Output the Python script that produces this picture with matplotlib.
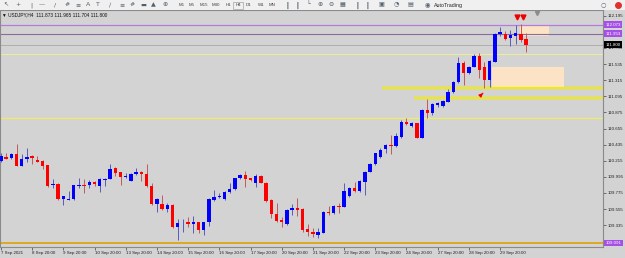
import matplotlib
matplotlib.use('Agg')
import matplotlib.pyplot as plt
from matplotlib.patches import Rectangle

plt.rcParams['font.family'] = ['Liberation Sans', 'DejaVu Sans']

# USDJPY H4 candles, 7 Sep 20:00 .. 30 Sep 16:00
opens = [110.212, 110.262, 110.248, 110.303, 110.148, 110.234, 110.280, 110.225, 110.212, 110.157,
         109.879, 109.893, 109.692, 109.683, 109.692, 109.870, 109.884, 109.879, 109.925, 109.875,
         109.957, 109.966, 110.116, 110.057, 109.988, 109.943, 110.029, 110.057, 110.034, 109.870,
         109.624, 109.624, 109.556, 109.610, 109.314, 109.374, 109.383, 109.346, 109.374, 109.269,
         109.374, 109.679, 109.724, 109.688, 109.793, 109.824, 109.975, 110.020, 109.975, 109.916,
         110.011, 109.916, 109.679, 109.487, 109.405, 109.346, 109.538, 109.565, 109.551, 109.278,
         109.246, 109.196, 109.232, 109.515, 109.497, 109.597, 109.588, 109.738, 109.838, 109.802,
         109.929, 110.066, 110.171, 110.271, 110.375, 110.430, 110.416, 110.544, 110.748, 110.689,
         110.726, 110.530, 110.908, 110.862, 110.976, 110.967, 111.022, 111.154, 111.290, 111.555,
         111.409, 111.500, 111.650, 111.500, 111.318, 111.568, 111.946, 111.946, 111.887, 111.923,
         111.946, 111.873]
highs = [110.316, 110.325, 110.316, 110.444, 110.307, 110.385, 110.293, 110.280, 110.225, 110.161,
         109.961, 109.906, 109.738, 109.802, 109.884, 109.984, 109.970, 109.952, 109.943, 109.975,
         109.975, 110.166, 110.125, 110.066, 110.043, 110.043, 110.111, 110.079, 110.166, 109.906,
         109.701, 109.742, 109.633, 109.624, 109.415, 109.415, 109.451, 109.460, 109.383, 109.383,
         109.701, 109.815, 109.770, 109.802, 109.916, 109.984, 110.029, 110.079, 109.984, 110.029,
         110.020, 109.920, 109.688, 109.633, 109.451, 109.551, 109.624, 109.701, 109.565, 109.351,
         109.292, 109.292, 109.524, 109.597, 109.610, 109.633, 109.906, 109.861, 109.920, 109.952,
         110.075, 110.180, 110.325, 110.385, 110.444, 110.567, 110.589, 110.771, 110.794, 110.748,
         110.735, 110.922, 111.054, 110.999, 111.022, 111.044, 111.190, 111.304, 111.627, 111.577,
         111.514, 111.673, 111.691, 111.568, 111.591, 111.955, 112.037, 111.992, 112.001, 112.069,
         112.078, 111.965]
lows = [110.202, 110.234, 110.239, 110.143, 110.143, 110.202, 110.166, 110.193, 110.098, 109.861,
        109.838, 109.683, 109.610, 109.679, 109.683, 109.838, 109.770, 109.838, 109.875, 109.793,
        109.875, 109.961, 110.011, 109.884, 109.975, 109.938, 110.020, 109.943, 109.861, 109.610,
        109.519, 109.542, 109.519, 109.292, 109.132, 109.246, 109.314, 109.223, 109.223, 109.200,
        109.323, 109.670, 109.710, 109.679, 109.779, 109.815, 109.961, 109.861, 109.938, 109.861,
        109.906, 109.656, 109.428, 109.383, 109.314, 109.337, 109.474, 109.460, 109.246, 109.187,
        109.169, 109.155, 109.223, 109.474, 109.487, 109.497, 109.579, 109.724, 109.793, 109.793,
        109.747, 110.057, 110.157, 110.248, 110.316, 110.307, 110.407, 110.530, 110.703, 110.680,
        110.521, 110.521, 110.794, 110.840, 110.953, 110.953, 111.013, 111.136, 111.281, 111.249,
        111.395, 111.491, 111.340, 111.204, 111.227, 111.559, 111.919, 111.864, 111.787, 111.805,
        111.841, 111.704]
closes = [110.280, 110.239, 110.303, 110.148, 110.239, 110.271, 110.257, 110.202, 110.148, 109.870,
          109.902, 109.692, 109.729, 109.692, 109.879, 109.884, 109.875, 109.925, 109.897, 109.966,
          109.966, 110.107, 110.052, 109.988, 110.007, 110.034, 110.057, 110.034, 109.870, 109.624,
          109.688, 109.556, 109.610, 109.314, 109.360, 109.383, 109.351, 109.374, 109.269, 109.374,
          109.688, 109.724, 109.738, 109.793, 109.824, 109.975, 110.020, 109.966, 109.952, 110.011,
          109.916, 109.670, 109.487, 109.396, 109.383, 109.542, 109.565, 109.542, 109.269, 109.246,
          109.210, 109.237, 109.515, 109.497, 109.597, 109.588, 109.802, 109.838, 109.802, 109.938,
          110.066, 110.171, 110.316, 110.362, 110.430, 110.412, 110.553, 110.748, 110.721, 110.726,
          110.530, 110.908, 110.862, 110.985, 110.999, 111.035, 111.158, 111.290, 111.555, 111.409,
          111.500, 111.650, 111.454, 111.318, 111.577, 111.946, 111.973, 111.878, 111.932, 111.955,
          111.864, 111.800]

date_ticks = list(range(0, 97, 6))
date_labels = ['7 Sep 2021', '8 Sep 20:00', '9 Sep 20:00', '10 Sep 20:00', '13 Sep 20:00',
               '14 Sep 20:00', '15 Sep 20:00', '16 Sep 20:00', '17 Sep 20:00', '20 Sep 20:00',
               '21 Sep 20:00', '22 Sep 20:00', '23 Sep 20:00', '24 Sep 20:00', '27 Sep 20:00',
               '28 Sep 20:00', '29 Sep 20:00']
price_ticks = [112.195, 111.975, 111.755, 111.535, 111.315, 111.095, 110.875, 110.655,
               110.435, 110.215, 109.995, 109.775, 109.555, 109.335, 109.115]

# drawn objects
purple_levels = [112.073, 111.953]
bid = 111.800
pale_level = 111.673
yellow_segments = [(73.3, 111.209), (79.4, 111.072)]
light_yellow_level = 110.799
orange_level = 109.091
zones = [(99.8, 105.4, 111.923, 112.073), (94.4, 108.3, 111.209, 111.496)]
down_arrows = [99.2, 100.4]
down_arrow_price = 112.18

bg = '#d3d3d3'
fig = plt.figure(figsize=(6.25, 2.58), dpi=100, facecolor=bg)
ax = fig.add_axes([0, 11 / 258, 603 / 625, 237 / 258], facecolor=bg)
ax.set_xlim(-0.19, 115.8)
ax.set_ylim(109.037, 112.274)

# zones
for x0, x1, y0, y1 in zones:
    ax.add_patch(Rectangle((x0, y0), x1 - x0, y1 - y0, facecolor='#fde3c6', edgecolor='none', zorder=1))

# levels
ax.axhline(purple_levels[0], color='#b57be0', lw=0.9, zorder=2)
ax.axhline(purple_levels[1], color='#8c6a9c', lw=0.8, zorder=2)
ax.axhline(bid, color='#a8a8a8', lw=0.6, zorder=2)
ax.axhline(pale_level, color='#ecec9a', lw=0.8, zorder=2)
for start, lvl in yellow_segments:
    ax.hlines(lvl, start, 115.8, color='#f4ec00', lw=1.5, zorder=2)
ax.axhline(light_yellow_level, color='#ecec70', lw=1.0, zorder=2)
ax.axhline(orange_level, color='#e0a400', lw=1.2, zorder=2)

# candles
for i in range(len(opens)):
    o, h, l, c = opens[i], highs[i], lows[i], closes[i]
    up = c >= o
    ax.vlines(i, l, h, color='#5a5ac0' if up else '#c05a5a', lw=0.7, zorder=3)
    ax.bar(i, max(abs(c - o), 0.008), bottom=min(o, c), width=0.65,
           color='#0000ff' if up else '#ff0000', edgecolor='none', zorder=4)

# arrows
ax.plot(down_arrows, [down_arrow_price] * 2, 'v', color='#ee0000', ms=3.5, zorder=5)
ax.plot([103.1], [112.23], 'v', color='#8c8c8c', ms=3, zorder=5)
ax.annotate('', xy=(93.1, 111.165), xytext=(92.3, 111.11),
            arrowprops=dict(arrowstyle='-|>', color='#ee0000', lw=0.9, mutation_scale=5), zorder=5)

# axes
for s in ax.spines.values():
    s.set_color('#8a8a8a')
    s.set_linewidth(0.8)
ax.yaxis.tick_right()
ax.set_yticks(price_ticks)
ax.set_yticklabels([f'{p:.3f}' for p in price_ticks])
ax.tick_params(axis='y', length=2, width=0.5, color='#404040', labelsize=3.2, pad=1, labelcolor='#202020')
ax.set_xticks(date_ticks)
ax.set_xticklabels(date_labels, ha='left')
ax.tick_params(axis='x', length=2, width=0.5, color='#404040', labelsize=3.2, pad=1, labelcolor='#202020')

# price tags on the right
tr = ax.get_yaxis_transform()
for p, fc in [(purple_levels[0], '#a64fe6'), (purple_levels[1], '#a64fe6'),
              (bid, '#000000'), (orange_level, '#a64fe6')]:
    ax.text(1.004, p, f'{p:.3f}', transform=tr, fontsize=3.2, color='white', va='center', ha='left',
            clip_on=False, zorder=6,
            bbox=dict(facecolor=fc, edgecolor='none', boxstyle='square,pad=0.3'))

ax.text(0.003, 0.978, '\u25bc USDJPY,H4  111.873 111.965 111.704 111.800', transform=ax.transAxes,
        fontsize=3.4, va='center', ha='left', color='#101010')

# toolbar
tb = fig.add_axes([0, 1 - 10 / 258, 1, 10 / 258], facecolor='#f0f0f0')
tb.set_xlim(0, 625)
tb.set_ylim(10, 0)
tb.axis('off')
tb.add_patch(Rectangle((0, 0), 625, 10, facecolor='#f0f0f0', edgecolor='none'))
tb.axhline(9.6, color='#b0b0b0', lw=0.6)
icons = [(6, '\u2196'), (18, '+'), (31, '|'), (42, '\u2014'), (55, '/'), (67, '#'), (78, '\u2261'),
         (88, 'A'), (98, 'T'), (110, '\u2215'), (122, '\u2261'), (132, '#'), (143, '\u25ac'),
         (153, '\u25b2'), (165, '\u2295'), (287, '\u2503'), (297, '\u2503'), (308, '\u2514'),
         (320, '\u2295'), (331, '\u2296'), (342, '\u25a6'), (357, '\u2503'), (367, '\u2503'),
         (381, '\u25a3'), (396, '\u25d4'), (410, '\u25a4'), (427, '\u25c9'), (603, '\u25cb')]
for x, g in icons:
    tb.text(x, 5, g, fontsize=4.5, ha='center', va='center', color='#506070', family='DejaVu Sans')
for x, t in [(182, 'M1'), (192, 'M5'), (204, 'M15'), (216, 'M30'), (228, 'H1'), (238, 'H4'),
             (249, 'D1'), (261, 'W1'), (272, 'MN')]:
    tb.text(x, 5, t, fontsize=3.2, ha='center', va='center', color='#404040')
tb.add_patch(Rectangle((233, 1.5), 10, 7, facecolor='none', edgecolor='#909090', lw=0.4))
tb.text(434, 5, 'AutoTrading', fontsize=3.8, ha='left', va='center', color='#202020')
tb.plot([618], [5], 'o', color='#e03030', ms=4)

fig.savefig('out.png', dpi=100, facecolor=bg)
